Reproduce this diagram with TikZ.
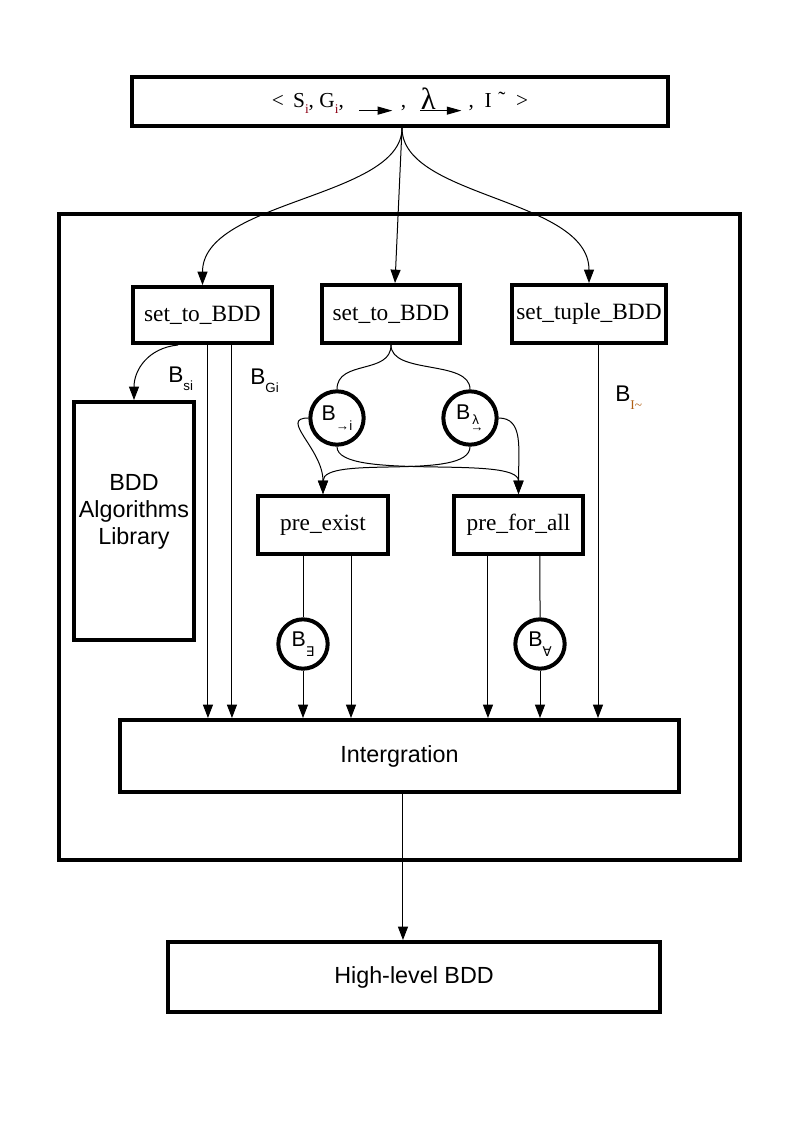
\documentclass[tikz,border=0pt]{standalone}
\usepackage{fontspec}
\setmainfont{Liberation Serif}
\setsansfont{Liberation Sans}
\newfontfamily\symfont{DejaVu Sans}
\usepackage{xcolor}
\usepackage{tikz}
\usetikzlibrary{arrows.meta,calc}

\definecolor{subred}{RGB}{140,0,20}
\definecolor{suborange}{RGB}{175,95,20}

\newcommand\redsub[1]{\raisebox{-4.5pt}{\fontsize{10}{10}\selectfont\color{subred}#1}}
\newcommand\lowsub[1]{\raisebox{-6pt}{\fontsize{10}{10}\selectfont #1}}
\newcommand\circsub[1]{\raisebox{-8pt}{\fontsize{10}{10}\selectfont #1}}
\newcommand\lamsub{\raisebox{-8.5pt}{\fontsize{10}{10}\selectfont\makebox[0pt][l]{\hspace{1.5pt}\raisebox{5pt}{λ}}→}}
\newcommand\bigarr[1]{\tikz[baseline=2pt]\draw[line width=0.8pt,-{Triangle[length=11pt,width=6pt]}] (0pt,0pt) -- (#1,0pt);}
\newcommand\lamarr{\makebox[0pt][l]{\hspace{1pt}\raisebox{-1.5pt}{\fontsize{23}{23}\selectfont λ}}\bigarr{31pt}}

\begin{document}
\begin{tikzpicture}
[x=0.75pt,y=0.75pt,yscale=-1,xscale=1,
 thickbox/.style={draw, line width=3pt, inner sep=0pt},
 serifbox/.style={thickbox, font=\fontsize{17.5}{20}\selectfont},
 sansbox/.style={thickbox, font=\sffamily\fontsize{17.5}{21}\selectfont},
 bddcirc/.style={circle, draw, line width=3pt, inner sep=0pt, font=\sffamily\fontsize{16}{16}\selectfont},
 blabel/.style={anchor=base west, inner sep=0pt, font=\sffamily\fontsize{17}{17}\selectfont},
 wire/.style={line width=0.75pt},
 arr/.style={wire, -{Triangle[length=10pt,width=7.5pt]}}]
\useasboundingbox (0,0) rectangle (794,1123);

%outer frame
\draw [line width=2.6pt] (59,214) rectangle (740,860);

\node [serifbox, minimum width=402pt, minimum height=36.75pt, font=\fontsize{16}{18}\selectfont] (tuple) at (400,101.5)
  {<\hspace{7pt}S\redsub{i}, G\redsub{i},\hspace{11pt}\bigarr{25pt}\hspace{6pt},\hspace{10pt}\lamarr\hspace{5pt},\hspace{8pt}I\hspace{5pt}\raisebox{1pt}{\char"02DC}\hspace{8pt}>};

\node [serifbox, minimum width=104.25pt, minimum height=42pt] (setA) at (202.5,315) {set\_to\_BDD};
\node [serifbox, minimum width=103.5pt, minimum height=43.5pt] (setB) at (391,314) {set\_to\_BDD};
\node [serifbox, minimum width=115.5pt, minimum height=43.5pt] (setT) at (589,314) {set\_tuple\_BDD};

\node [thickbox, minimum width=90pt, minimum height=178.5pt] (lib) at (134,521) {};
\node [inner sep=0pt, align=center, font=\sffamily\fontsize{17.5}{20.25}\selectfont] (libtext) at (134,512) {BDD\\Algorithms\\Library};

\node [bddcirc, minimum size=40pt] (cA) at (337,418) {B\circsub{→i}};
\node [bddcirc, minimum size=40pt] (cB) at (470,418) {B\lamsub};

\node [serifbox, minimum width=97.5pt, minimum height=43.5pt] (preE) at (323,525) {pre\_exist};
\node [serifbox, minimum width=96.75pt, minimum height=43.5pt] (preF) at (518.5,525) {pre\_for\_all};

\node [bddcirc, minimum size=37pt] (cE) at (303,644) {B\circsub{\symfont ∃}};
\node [bddcirc, minimum size=37pt] (cF) at (540,644) {B\circsub{\symfont ∀}};

\node [sansbox, minimum width=419.25pt, minimum height=54pt] (integ) at (399.5,756) {Intergration};
\node [sansbox, minimum width=369pt, minimum height=52.5pt] (high) at (414,977) {High-level BDD};

\node [blabel] (lbS) at (168,382) {B\lowsub{si}};
\node [blabel] (lbG) at (250,384) {B\lowsub{Gi}};
\node [blabel] (lbI) at (615,401) {B\lowsub{\rmfamily\color{suborange}I\textasciitilde}};

%fan out of the tuple
\coordinate (fan) at ([xshift=1.5pt]tuple.south);
\draw [arr] (fan) .. controls ($(fan)+(0,70)$) and ($(setA.north)+(0,-85)$) .. (setA.north);
\draw [arr] (fan) -- ([xshift=3pt]setB.north);
\draw [arr] (fan) .. controls ($(fan)+(0,70)$) and ($(setT.north)+(0,-85)$) .. (setT.north);

%set_to_BDD outputs
\coordinate (l0) at ([xshift=-18.4pt]setA.south);
\draw [arr] (l0) .. controls ($(l0)+(-30,3)$) and ($(lib.north)+(0,-30)$) .. (lib.north);
\coordinate (a1) at ([xshift=4.1pt]setA.south);
\coordinate (a2) at ([xshift=22.1pt]setA.south);
\draw [arr] (a1) -- (a1 |- integ.north);
\draw [arr] (a2) -- (a2 |- integ.north);

\draw [wire] (setB.south) .. controls ($(setB.south)+(0,30)$) and ($(cA.north)+(0,-30)$) .. (cA.north);
\draw [wire] (setB.south) .. controls ($(setB.south)+(0,30)$) and ($(cB.north)+(0,-30)$) .. (cB.north);

\draw [arr] (cA.west) .. controls ($(cA.west)+(-30,0)$) and ($(preE.north)+(0,-45)$) .. (preE.north);
\draw [arr] (cA.south) .. controls ($(cA.south)+(0,35)$) and ($(preF.north)+(0,-40)$) .. (preF.north);
\draw [arr] (cB.south) .. controls ($(cB.south)+(0,35)$) and ($(preE.north)+(0,-40)$) .. (preE.north);
\draw [arr] (cB.east) .. controls ($(cB.east)+(25,0)$) and ($(preF.north)+(0,-45)$) .. (preF.north);

%into the integration
\coordinate (e1) at ([xshift=-15pt]preE.south);
\coordinate (e2) at ([xshift=21pt]preE.south);
\draw [wire] (e1) -- (cE.north);
\draw [arr] (cE.south) -- (cE.south |- integ.north);
\draw [arr] (e2) -- (e2 |- integ.north);

\coordinate (f1) at ([xshift=-22.9pt]preF.south);
\coordinate (f2) at ([xshift=16.1pt]preF.south);
\draw [arr] (f1) -- (f1 |- integ.north);
\draw [wire] (f2) -- (cF.north);
\draw [arr] (cF.south) -- (cF.south |- integ.north);

\coordinate (t1) at ([xshift=6.75pt]setT.south);
\draw [arr] (t1) -- (t1 |- integ.north);

\coordinate (d1) at ([xshift=2.6pt]integ.south);
\draw [arr] (d1) -- (d1 |- high.north);

\end{tikzpicture}
\end{document}
